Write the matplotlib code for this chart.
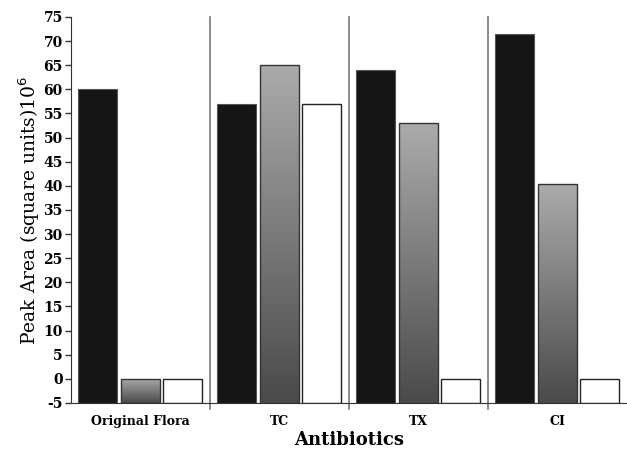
import numpy as np
import matplotlib.pyplot as plt
from matplotlib.colors import LinearSegmentedColormap

groups = ["Original Flora", "TC", "TX", "CI"]
black_vals = [60, 57, 64, 71.5]
gray_vals = [0, 65, 53, 40.3]
white_vals = [0, 57, 0, 0]
y_ticks = list(range(-5, 80, 5))

base = -5
width = 0.28
offsets = [0.05, 0.357, 0.664]

plt.rcParams['font.family'] = ['DejaVu Serif']

fig = plt.figure(figsize=(6.27, 4.53), dpi=100)
ax = fig.add_axes([0.1132, 0.1104, 0.8868, 0.8521])

x = np.arange(len(groups))
grad = LinearSegmentedColormap.from_list("g", ["#4a4a4a", "#ababab"])
ramp = np.linspace(0, 1, 256).reshape(-1, 1)

ax.bar(x + offsets[0], np.array(black_vals) - base, width, bottom=base,
       align='edge', color='#151515', edgecolor='#555555', linewidth=0.8, zorder=2)
gray_bars = ax.bar(x + offsets[1], np.array(gray_vals) - base, width, bottom=base,
                   align='edge', color='none', edgecolor='#333333', linewidth=1.0, zorder=3)
ax.bar(x + offsets[2], np.array(white_vals) - base, width, bottom=base,
       align='edge', color='white', edgecolor='#222222', linewidth=1.0, zorder=2)

# gradient fill for the middle bars, light at top, dark at bottom
for b in gray_bars:
    x0, y0 = b.get_x(), b.get_y()
    im = ax.imshow(ramp, cmap=grad, origin='lower', aspect='auto',
                   extent=[x0, x0 + b.get_width(), y0, y0 + b.get_height()], zorder=2)
    im.set_clip_path(b)

for i in range(1, len(groups)):
    ax.plot([i, i], [-6.2, 75], color='#777777', linewidth=1.2, clip_on=False, zorder=1)

ax.set_xlim(0, len(groups))
ax.set_ylim(-5, 75)
ax.set_yticks(y_ticks)
ax.set_yticklabels([str(v) for v in y_ticks], fontweight='bold', fontsize=10)
ax.set_xticks(x + 0.5)
ax.set_xticklabels(groups, fontweight='bold', fontsize=9)
ax.tick_params(axis='x', length=0, pad=9)
ax.tick_params(axis='y', length=4, width=1, color='#333333', pad=2)
for s in ['top', 'right']:
    ax.spines[s].set_visible(False)
ax.spines['left'].set_color('#333333')
ax.spines['bottom'].set_color('#333333')
ax.set_ylabel("Peak Area (square units)10$^6$", fontsize=13.5, labelpad=1)
ax.set_xlabel("Antibiotics", fontweight='bold', fontsize=13, labelpad=2)

fig.savefig("out.png", dpi=100)
